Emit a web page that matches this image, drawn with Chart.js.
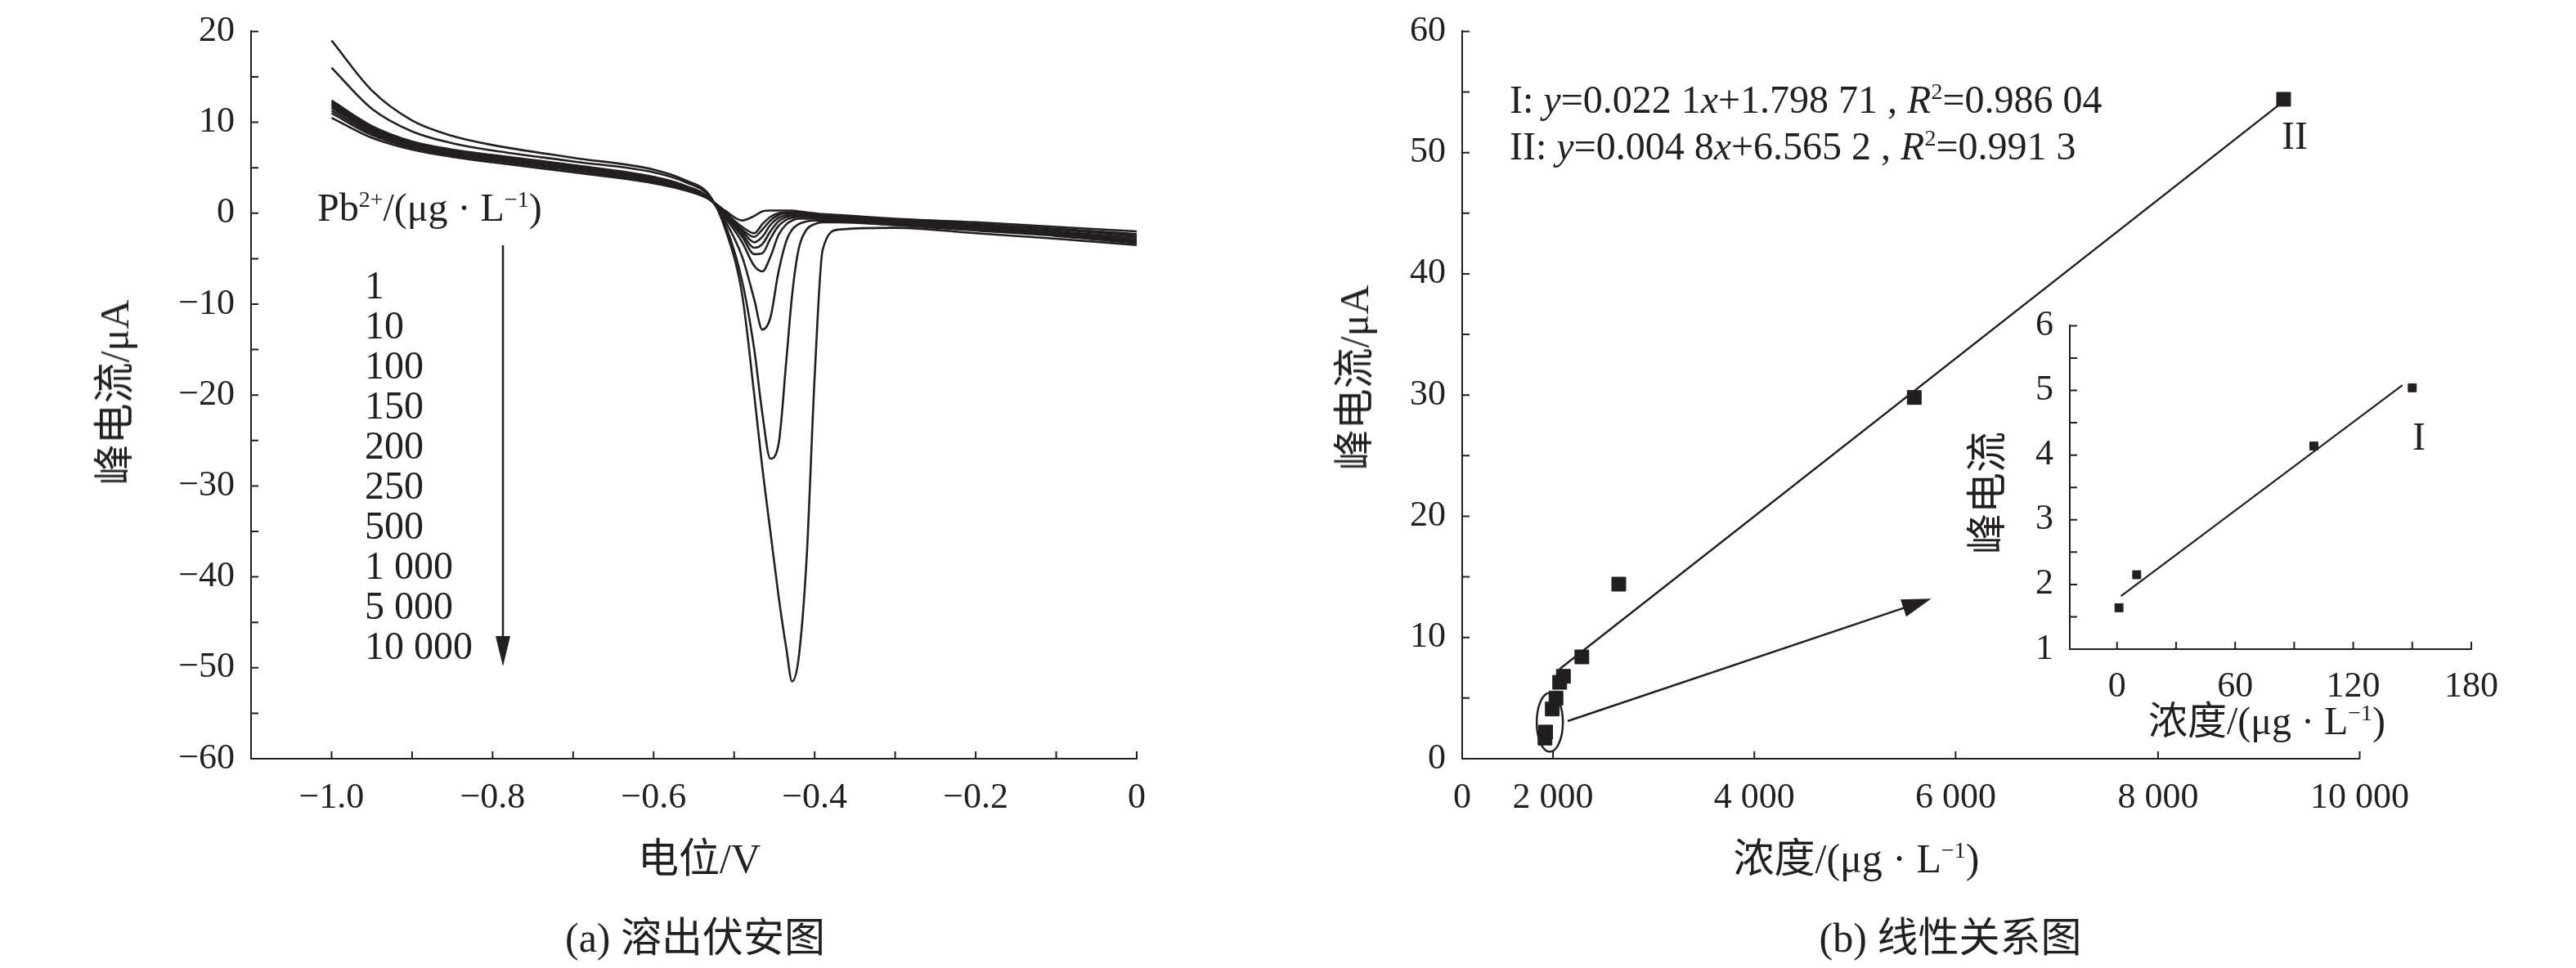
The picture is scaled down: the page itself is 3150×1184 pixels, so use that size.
<!DOCTYPE html>
<html><head><meta charset="utf-8">
<script src="https://cdn.jsdelivr.net/npm/chart.js@4/dist/chart.umd.min.js"></script>
<style>
body{margin:0;background:#fff;width:3150px;height:1184px;position:relative;overflow:hidden;font-family:"Liberation Serif","Noto Sans CJK SC",serif;color:#231f20}
canvas{position:absolute}
.t{position:absolute;font-size:48px;white-space:nowrap;line-height:1}
.v{position:absolute;font-size:50px;white-space:nowrap;transform:translate(-50%,-50%) rotate(-90deg)}
.c{transform:translateX(-50%)}
i{font-style:italic}
sup{font-size:28px}
</style></head><body>
<canvas id="left" style="left:0;top:0"></canvas>
<canvas id="right" style="left:1480px;top:0"></canvas>
<canvas id="inset" style="left:2350px;top:360px"></canvas>

<div class="v" style="left:135px;top:480px">峰电流/μA</div>
<div class="t c" style="left:855px;top:1025px;font-size:50px">电位/V</div>
<div class="t c" style="left:850px;top:1122px;font-size:50px">(a) 溶出伏安图</div>
<div class="t" style="left:388px;top:230px">Pb<sup>2+</sup>/(μg · L<sup>−1</sup>)</div>
<div id="concList" class="t" style="left:446px;top:324px;line-height:49px"></div>
<svg style="position:absolute;left:0;top:0" width="1450" height="1184">
  <line x1="615" y1="300" x2="615" y2="790" stroke="#231f20" stroke-width="2.5"/>
  <polygon points="606,778 624,778 615,815" fill="#231f20"/>
</svg>

<div class="v" style="left:1651px;top:462px">峰电流/μA</div>
<div class="t c" style="left:2270px;top:1025px;font-size:50px">浓度/(μg · L<sup>−1</sup>)</div>
<div class="t c" style="left:2385px;top:1122px;font-size:50px">(b) 线性关系图</div>
<div class="t" style="left:1846px;top:98px">I: <i>y</i>=0.022 1<i>x</i>+1.798 71 , <i>R</i><sup>2</sup>=0.986 04</div>
<div class="t" style="left:1846px;top:155px">II: <i>y</i>=0.004 8<i>x</i>+6.565 2 , <i>R</i><sup>2</sup>=0.991 3</div>
<div class="t" style="left:2790px;top:142px">II</div>
<div class="t" style="left:2950px;top:510px">I</div>
<div class="v" style="left:2425px;top:603px">峰电流</div>
<div class="t c" style="left:2772px;top:858px">浓度/(μg · L<sup>−1</sup>)</div>

<script>
// --- Data: stripping voltammograms ---
const concLabels = ['1', '10', '100', '150', '200', '250', '500', '1 000', '5 000', '10 000'];
const potential = [-1.0, -0.95, -0.9, -0.85, -0.8, -0.7, -0.6, -0.56, -0.53, -0.51, -0.49, -0.475, -0.465, -0.455, -0.445, -0.435, -0.428, -0.42, -0.41, -0.40, -0.39, -0.37, -0.3, -0.2, -0.1, 0];
const curve1 = [10.5, 8.3, 7.0, 6.2, 5.6, 4.5, 3.3, 2.5, 1.5, 0.2, -0.8, -0.3, 0.2, 0.3, 0.3, 0.3, 0.3, 0.2, 0.1, 0.0, -0.1, -0.2, -0.6, -1.0, -1.5, -2.0];
const curve10 = [11, 8.6, 7.2, 6.4, 5.8, 4.7, 3.4, 2.6, 1.5, 0.0, -1.5, -2.2, -1.2, -0.4, 0, 0.1, 0.1, 0.1, 0, -0.1, -0.2, -0.3, -0.7, -1.2, -1.7, -2.3];
const curve100 = [11.3, 8.8, 7.3, 6.5, 5.9, 4.8, 3.5, 2.6, 1.5, -0.1, -1.8, -2.6, -1.8, -0.8, -0.2, 0, 0, 0, -0.1, -0.2, -0.3, -0.4, -0.8, -1.3, -1.8, -2.5];
const curve150 = [11.6, 9, 7.5, 6.6, 6.0, 4.9, 3.6, 2.7, 1.5, -0.2, -2.0, -3.2, -2.6, -1.3, -0.5, -0.2, -0.1, -0.1, -0.2, -0.3, -0.4, -0.5, -0.9, -1.4, -2.0, -2.7];
const curve200 = [11.8, 9.2, 7.6, 6.7, 6.1, 5.0, 3.7, 2.7, 1.5, -0.3, -2.3, -3.8, -3.4, -2.0, -0.9, -0.4, -0.3, -0.3, -0.3, -0.4, -0.5, -0.6, -1.0, -1.5, -2.1, -2.9];
const curve250 = [12, 9.3, 7.7, 6.8, 6.2, 5.1, 3.8, 2.8, 1.5, -0.4, -2.6, -4.5, -4.4, -2.8, -1.4, -0.7, -0.5, -0.4, -0.4, -0.5, -0.6, -0.7, -1.1, -1.6, -2.2, -3.0];
const curve500 = [12.2, 9.5, 7.8, 6.9, 6.3, 5.2, 3.9, 2.9, 1.5, -0.6, -3.2, -5.8, -6.4, -4.8, -2.4, -1.2, -0.8, -0.6, -0.6, -0.6, -0.7, -0.8, -1.2, -1.7, -2.3, -3.1];
const curve1000 = [12.4, 9.6, 7.9, 7.0, 6.4, 5.3, 4.0, 3.0, 1.6, -1.0, -4.8, -9.5, -12.8, -11.5, -6.5, -3.0, -1.8, -1.2, -0.9, -0.8, -0.8, -0.9, -1.3, -1.8, -2.4, -3.2];
const curve5000 = [16, 11.5, 9.0, 7.7, 6.9, 5.7, 4.5, 3.4, 1.8, -1.5, -7.5, -15, -22, -27, -25.5, -16, -9, -4, -1.8, -1.2, -1.0, -1.0, -1.3, -1.9, -2.5, -3.3];
const curve10000 = [19, 13.5, 10.2, 8.5, 7.5, 6.1, 4.8, 3.6, 1.9, -2, -9, -20, -28, -35, -42, -48, -51.5, -49, -38, -18, -4, -1.8, -1.6, -2.2, -2.8, -3.5];
const curves = [curve1, curve10, curve100, curve150, curve200, curve250, curve500, curve1000, curve5000, curve10000];

// --- Data: linear relation ---
const concII = [1, 10, 100, 150, 200, 250, 500, 1000, 5000, 10000];
const currentII = [1.7, 2.2, 4.1, 5.0, 6.3, 6.8, 8.4, 14.4, 29.8, 54.4];
const fitIIx = [200, 9950];
const fitIIy = [7.4, 54.0];
const mainXTicks = [-1120, 110, 2835, 5560, 8300, 11030];
const mainXLabels = ['0', '2 000', '4 000', '6 000', '8 000', '10 000'];
const ellipseAt = [66, 3.0];
const arrowFrom = [308, 3.1];
const arrowTo = [5230, 13.2];

// --- Data: inset (range I) ---
const concI = [1, 10, 100, 150];
const currentI = [1.64, 2.15, 4.14, 5.04];
const fitIx = [2, 145];
const fitIy = [1.82, 5.08];

document.getElementById('concList').innerHTML = concLabels.join('<br>');

const INK = '#231f20';
const FONT = {family: '"Liberation Serif", "Noto Sans CJK SC", serif', size: 44};
const minus = s => String(s).replace('-', '\u2212');

// ticks drawn inward along axis lines
const inTicks = {
  id: 'inTicks',
  afterDraw(chart) {
    const ctx = chart.ctx, a = chart.chartArea;
    ctx.save();
    ctx.strokeStyle = INK;
    ctx.lineWidth = 2;
    const x = chart.scales.x, y = chart.scales.y;
    ctx.beginPath();
    x.ticks.forEach(t => {
      const px = x.getPixelForValue(t.value);
      if (Math.abs(px - a.left) < 1) return;
      ctx.moveTo(px, a.bottom); ctx.lineTo(px, a.bottom - 9);
    });
    y.ticks.forEach(t => {
      const py = y.getPixelForValue(t.value);
      ctx.moveTo(a.left, py); ctx.lineTo(a.left + 9, py);
    });
    ctx.stroke();
    ctx.restore();
  }
};

// --- Left chart ---
const leftCanvas = document.getElementById('left');
leftCanvas.width = 1450; leftCanvas.height = 1184;
new Chart(leftCanvas, {
  type: 'line',
  data: {
    datasets: curves.map(c => ({
      data: potential.map((p, i) => ({x: p, y: c[i]})),
      borderColor: INK, borderWidth: 2.6, pointRadius: 0,
      cubicInterpolationMode: 'monotone'
    }))
  },
  options: {
    responsive: false, animation: false, devicePixelRatio: 1,
    layout: {padding: {top: 30, right: 60, left: 0, bottom: 0}},
    plugins: {legend: {display: false}, tooltip: {enabled: false}},
    scales: {
      x: {
        type: 'linear', min: -1.1, max: 0,
        grid: {display: false}, border: {color: INK, width: 2},
        ticks: {stepSize: 0.1, color: INK, font: FONT, padding: 14, maxRotation: 0, autoSkip: false,
          callback: v => {
            const k = Math.round(v * 10);
            if (k % 2) return '';
            return k === 0 ? '0' : minus(v.toFixed(1));
          }},
        afterFit: s => { s.height = 256; }
      },
      y: {
        min: -60, max: 20,
        grid: {display: false}, border: {color: INK, width: 2},
        ticks: {stepSize: 5, color: INK, font: FONT, padding: 12, autoSkip: false,
          callback: v => v % 10 ? '' : minus(v)},
        afterFit: s => { s.width = 307; }
      }
    }
  },
  plugins: [inTicks]
});

// --- Right chart ---
const annot = {
  id: 'annot',
  afterDatasetsDraw(chart) {
    const ctx = chart.ctx, x = chart.scales.x, y = chart.scales.y;
    ctx.save();
    ctx.strokeStyle = INK; ctx.fillStyle = INK; ctx.lineWidth = 2.5;
    ctx.beginPath();
    ctx.ellipse(x.getPixelForValue(ellipseAt[0]), y.getPixelForValue(ellipseAt[1]), 16, 36, 0, 0, Math.PI * 2);
    ctx.stroke();
    const x0 = x.getPixelForValue(arrowFrom[0]), y0 = y.getPixelForValue(arrowFrom[1]);
    const x1 = x.getPixelForValue(arrowTo[0]), y1 = y.getPixelForValue(arrowTo[1]);
    const ang = Math.atan2(y1 - y0, x1 - x0);
    ctx.beginPath(); ctx.moveTo(x0, y0);
    ctx.lineTo(x1 - 30 * Math.cos(ang), y1 - 30 * Math.sin(ang)); ctx.stroke();
    ctx.beginPath(); ctx.moveTo(x1, y1);
    ctx.lineTo(x1 - 36 * Math.cos(ang) + 11 * Math.sin(ang), y1 - 36 * Math.sin(ang) - 11 * Math.cos(ang));
    ctx.lineTo(x1 - 36 * Math.cos(ang) - 11 * Math.sin(ang), y1 - 36 * Math.sin(ang) + 11 * Math.cos(ang));
    ctx.closePath(); ctx.fill();
    ctx.restore();
  }
};

const rightCanvas = document.getElementById('right');
rightCanvas.width = 1480; rightCanvas.height = 1184;
new Chart(rightCanvas, {
  type: 'scatter',
  data: {
    datasets: [
      {data: concII.map((c, i) => ({x: c, y: currentII[i]})), pointStyle: 'rect', pointRadius: 12,
        backgroundColor: INK, borderColor: INK},
      {type: 'line', data: fitIIx.map((c, i) => ({x: c, y: fitIIy[i]})), borderColor: INK, borderWidth: 2.5,
        pointRadius: 0, showLine: true}
    ]
  },
  options: {
    responsive: false, animation: false, devicePixelRatio: 1,
    layout: {padding: {top: 30, right: 1480 - 1420, left: 0, bottom: 0}},
    plugins: {legend: {display: false}, tooltip: {enabled: false}},
    scales: {
      x: {
        type: 'linear', min: mainXTicks[0], max: mainXTicks[mainXTicks.length - 1],
        grid: {display: false}, border: {color: INK, width: 2},
        afterBuildTicks: s => { s.ticks = mainXTicks.map(v => ({value: v})); },
        ticks: {color: INK, font: FONT, padding: 14, maxRotation: 0, autoSkip: false,
          callback: (v, i) => mainXLabels[i]},
        afterFit: s => { s.height = 256; }
      },
      y: {
        min: 0, max: 60,
        grid: {display: false}, border: {color: INK, width: 2},
        ticks: {stepSize: 5, color: INK, font: FONT, padding: 12, autoSkip: false,
          callback: v => v % 10 ? '' : v},
        afterFit: s => { s.width = 308; }
      }
    }
  },
  plugins: [inTicks, annot]
});

// --- Inset chart ---
const insetCanvas = document.getElementById('inset');
insetCanvas.width = 740; insetCanvas.height = 500;
new Chart(insetCanvas, {
  type: 'scatter',
  data: {
    datasets: [
      {data: concI.map((c, i) => ({x: c, y: currentI[i]})), pointStyle: 'rect', pointRadius: 7,
        backgroundColor: INK, borderColor: INK},
      {type: 'line', data: fitIx.map((c, i) => ({x: c, y: fitIy[i]})), borderColor: INK, borderWidth: 2.2,
        pointRadius: 0, showLine: true}
    ]
  },
  options: {
    responsive: false, animation: false, devicePixelRatio: 1,
    layout: {padding: {top: 32, right: 740 - 672, left: 0, bottom: 0}},
    plugins: {legend: {display: false}, tooltip: {enabled: false}},
    scales: {
      x: {
        type: 'linear', min: -24, max: 180,
        grid: {display: false}, border: {color: INK, width: 2},
        afterBuildTicks: s => { s.ticks = [0, 30, 60, 90, 120, 150, 180].map(v => ({value: v})); },
        ticks: {color: INK, font: FONT, padding: 12, maxRotation: 0, autoSkip: false,
          callback: v => v % 60 ? '' : v},
        afterFit: s => { s.height = 500 - 434; }
      },
      y: {
        min: 1, max: 6,
        grid: {display: false}, border: {color: INK, width: 2},
        ticks: {stepSize: 0.5, color: INK, font: FONT, padding: 12, autoSkip: false,
          callback: v => Number.isInteger(v) ? v : ''},
        afterFit: s => { s.width = 181; }
      }
    }
  },
  plugins: [inTicks]
});
</script>
</body></html>
